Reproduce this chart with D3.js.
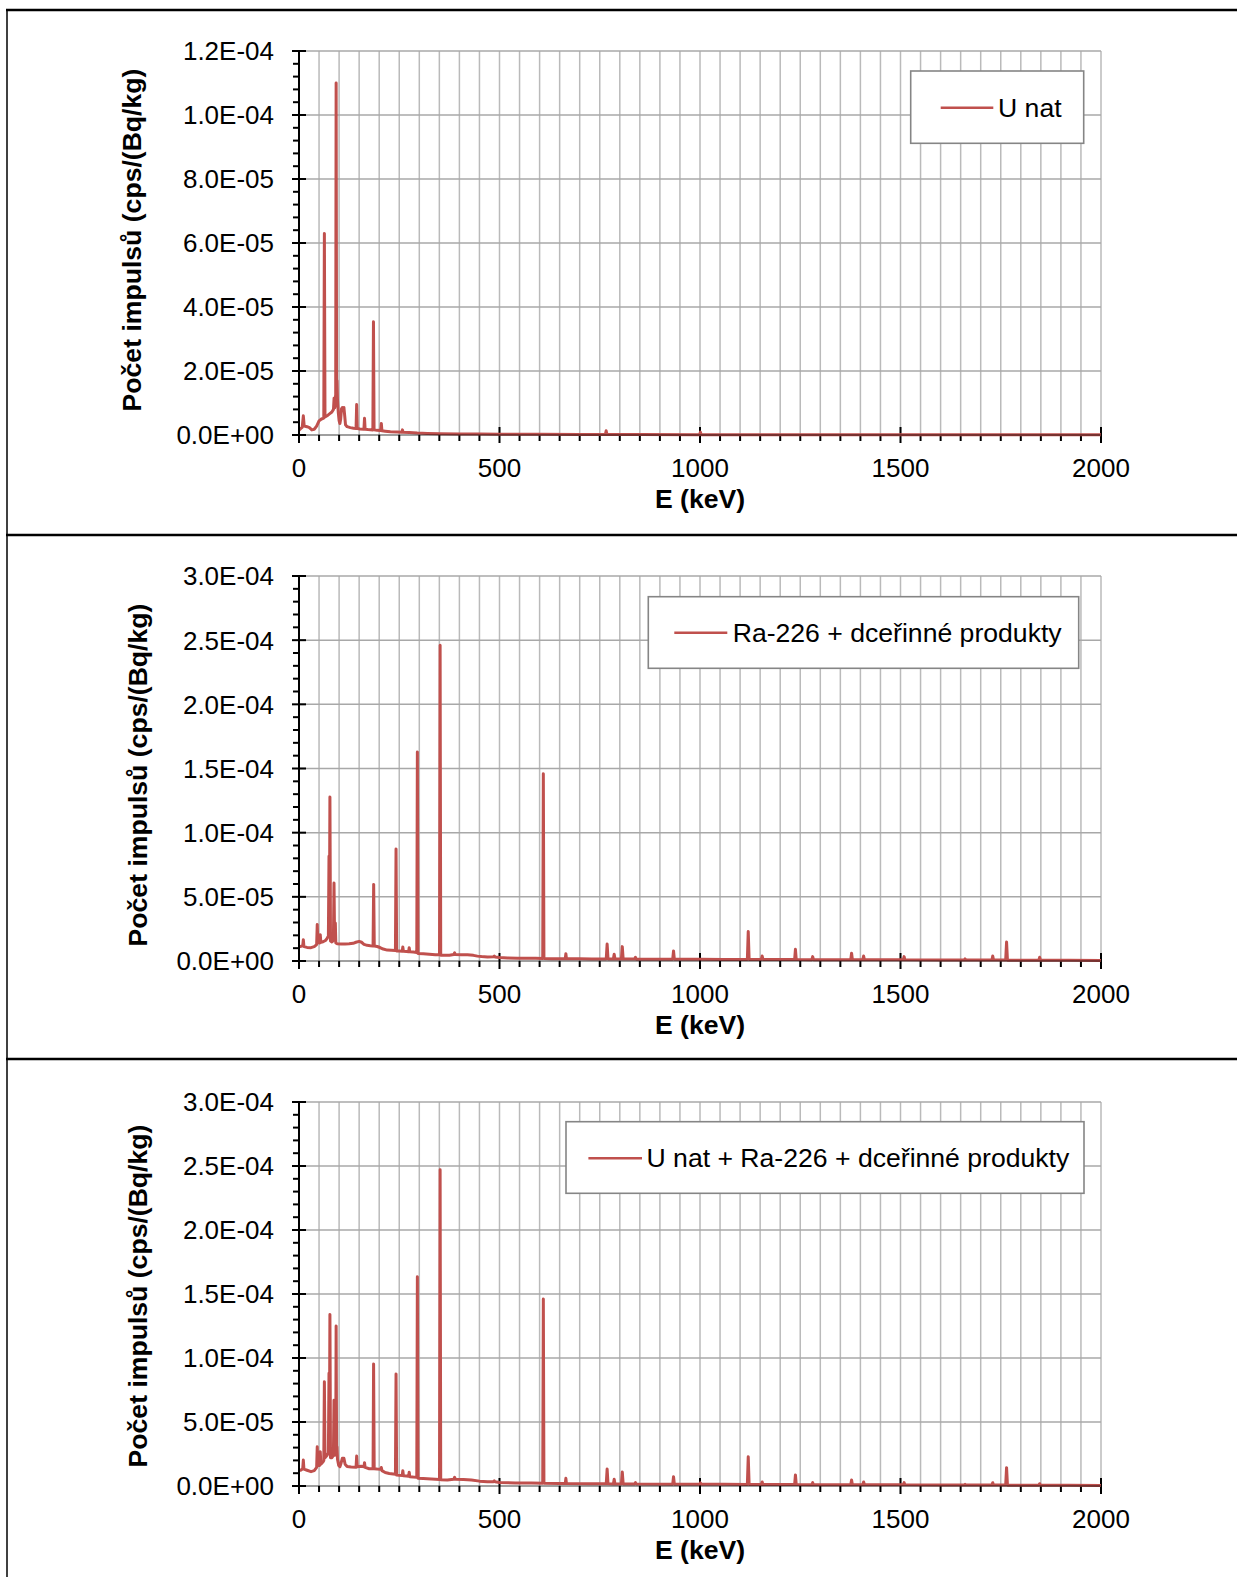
<!DOCTYPE html>
<html><head><meta charset="utf-8">
<script src="https://cdn.jsdelivr.net/npm/d3@7"></script>
<style>
body{margin:0;background:#fff}
svg{display:block}
text{font-family:"Liberation Sans",Arial,sans-serif;fill:#000}
</style>
</head><body>
<svg id="c" width="1237" height="1577"></svg>
<script>
// ---------- DATA (values in units of 1e-6 cps/(Bq/kg)) ----------
const xMajorTicks = [0, 500, 1000, 1500, 2000];
const yTicksU = [0, 20, 40, 60, 80, 100, 120];
const yTicksRa = [0, 50, 100, 150, 200, 250, 300];
const xTitle = "E (keV)";
const yTitle = "Počet impulsů (cps/(Bq/kg)";
const seriesNames = ["U nat", "Ra-226 + dceřinné produkty", "U nat + Ra-226 + dceřinné produkty"];

const spectrumU = [
[0,1.5],[4,2.0],[8,2.4],[10.8,6.0],[13,2.8],[20,2.6],[26,2.3],[32,1.6],[38,1.8],[44,2.8],[50,4.4],[56,5.0],[61.8,5.3],[63.3,63],[64.8,5.6],[70,6.0],[76,6.6],[82,7.2],[86,8.0],[87.5,11.5],[89,8.5],[90.5,12],[91.5,9],[92.6,110],[93.8,14],[94.8,17],[96,11],[98,7],[100,4.5],[102,3.6],[104,5],[106,8.2],[108,8.6],[110,8.3],[112,8.6],[114,6],[116,3.2],[120,2.6],[128,2.3],[136,2.1],[142.3,2.0],[143.8,9.5],[145.3,2.0],[152,1.9],[161.9,1.8],[163.4,5.2],[164.9,1.8],[172,1.7],[184.2,1.6],[185.7,35.4],[187.2,1.6],[195,1.45],[203.8,1.4],[205.3,3.6],[206.8,1.3],[215,1.2],[228,1.05],[245,0.95],[256.5,0.85],[258,1.6],[259.5,0.85],[275,0.75],[295,0.6],[320,0.5],[350,0.4],[400,0.33],[450,0.28],[500,0.25],[600,0.2],[700,0.17],[764,0.15],[766,1.3],[768,0.15],[850,0.13],[999,0.11],[1001,0.9],[1003,0.11],[1200,0.09],[1500,0.07],[1800,0.06],[2000,0.05]
];

const spectrumRa = [
[0,11],[5,11.5],[9.3,12],[10.8,16.6],[12.3,11.2],[20,10.6],[30,10.4],[38,11.2],[44,12.8],[45.5,28.5],[47,14.5],[51.5,14],[53,20.5],[54.5,14.5],[60,15],[66,16],[70,17.5],[73.3,19.5],[74.8,81.6],[75.8,24],[77.1,127.8],[78.6,15.5],[82,14.8],[85.8,16],[87.3,60.8],[88.5,24],[89.6,16],[90.6,29.6],[91.8,14],[95,13.5],[105,13.3],[115,13.2],[125,13.4],[135,13.8],[142,14.6],[150,15.3],[156,14.6],[162,13],[170,12.2],[178,11.9],[184.7,11.7],[186.2,59.7],[187.7,11.7],[195,11.3],[202,10.5],[210,9.3],[220,8.5],[230,8.3],[240.5,8.1],[242,87.3],[243.5,7.8],[250,7.7],[257.4,7.6],[258.9,10.9],[260.4,7.5],[268,7.4],[273.3,7.3],[274.8,10.4],[276.3,7.2],[285,7.0],[293.7,6.7],[295.2,162.9],[296.7,5.8],[310,5.6],[325,5.3],[340,4.9],[350.4,4.8],[351.9,246],[353.4,4.5],[365,4.4],[375,4.5],[386,5.1],[388,6.3],[390,5.0],[405,4.9],[420,4.8],[435,4.4],[445,3.8],[455,3.5],[470,3.2],[485,3.3],[487,3.9],[489,3.2],[500,2.7],[520,2.4],[545,2.2],[570,2.1],[590,2.1],[607.8,2.0],[609.3,146],[610.8,1.9],[630,1.8],[650,1.8],[664,1.8],[665.5,5.7],[667,1.7],[700,1.7],[730,1.6],[766.2,1.6],[768.4,13.2],[770.6,1.6],[784,1.5],[786,5.2],[788,1.5],[804,1.5],[806.2,11.2],[808.4,1.5],[837,1.5],[839,2.9],[841,1.4],[880,1.4],[932,1.4],[934,7.8],[936,1.4],[1000,1.3],[1060,1.2],[1118.1,1.2],[1120.3,22.9],[1122.5,1.2],[1153,1.2],[1155,3.9],[1157,1.2],[1236,1.1],[1238,9.1],[1240,1.1],[1279,1.0],[1281,3.4],[1283,1.0],[1376,1.0],[1378,6.0],[1380,1.0],[1406,0.95],[1408,3.9],[1410,0.95],[1507,0.9],[1509,3.4],[1511,0.9],[1600,0.8],[1659,0.75],[1661,1.6],[1663,0.75],[1728,0.7],[1730,3.9],[1732,0.7],[1762.3,0.7],[1764.5,14.8],[1766.7,0.65],[1845,0.6],[1847,2.9],[1849,0.6],[1920,0.5],[2000,0.45]
];

const spectrumSum = [
[0,12],[5,12.5],[9.3,13.5],[10.8,20.3],[12.3,13.2],[20,12.3],[30,11.2],[38,12],[44,14.5],[45.5,30.7],[47,16],[51.5,16],[53,26.8],[54.5,17],[60,19],[61.8,20],[63.3,81.5],[64.8,22],[70,24],[73.3,26],[74.8,88],[75.8,30],[77.1,134],[78.6,22],[82,22],[85.8,24],[87.3,67],[88.5,32],[89.6,24],[90.8,35],[91.6,26],[92.6,125],[93.8,28],[94.8,30.7],[96,21],[99,16],[102,15.1],[105,18],[108,21.6],[112,21.6],[115,17],[120,15.2],[130,14.8],[142.3,14.6],[143.8,23.4],[145.3,15],[155,15.4],[161.9,15],[163.4,18.2],[164.9,14.5],[175,13.5],[184.7,13.5],[186,95.3],[187.5,13.5],[195,13.2],[203.8,13],[205.3,14.5],[206.8,12],[215,10.5],[225,9.8],[235,9.4],[240.5,9.2],[242,87.5],[243.5,8.5],[250,8.3],[257.4,8.2],[258.9,12],[260.4,8],[268,7.9],[273.3,7.7],[274.8,10.7],[276.3,7.3],[285,7.0],[293.7,6.8],[295.2,163.5],[296.7,6],[310,5.8],[330,5.4],[350.4,5],[351.9,247],[353.4,4.8],[370,4.7],[386,5.3],[388,6.8],[390,5.2],[410,5.1],[430,4.7],[450,3.8],[470,3.3],[485,3.4],[487,4],[489,3.3],[500,2.8],[540,2.4],[580,2.3],[607.8,2.2],[609.3,146],[610.8,2.1],[650,2.0],[664,1.9],[665.5,6],[667,1.9],[720,1.8],[766.2,1.7],[768.4,13.3],[770.6,1.7],[784,1.6],[786,5.2],[788,1.6],[804,1.6],[806.2,10.9],[808.4,1.6],[837,1.5],[839,2.6],[841,1.5],[932,1.4],[934,7.3],[936,1.4],[999,1.4],[1001,2.4],[1003,1.3],[1060,1.3],[1118.1,1.2],[1120.3,22.9],[1122.5,1.2],[1153,1.2],[1155,3.1],[1157,1.2],[1236,1.1],[1238,8.6],[1240,1.1],[1279,1.0],[1281,2.6],[1283,1.0],[1376,1.0],[1378,4.7],[1380,1.0],[1406,0.95],[1408,3.1],[1410,0.95],[1507,0.9],[1509,2.6],[1511,0.9],[1600,0.8],[1659,0.75],[1661,1.3],[1663,0.75],[1728,0.7],[1730,2.6],[1732,0.7],[1762.3,0.7],[1764.5,14.3],[1766.7,0.65],[1845,0.6],[1847,1.8],[1849,0.6],[1920,0.5],[2000,0.45]
];

// ---------- LAYOUT ----------
const W = 1237, H = 1577;
const plotLeft = 299, plotRight = 1101;
const FONT = 26, FONT_T = 26.6;
const RED = "#C0504D";
const GRID = "#BABABA";

const panels = [
  {top:51, bottom:435, yTicks:yTicksU, minorDiv:5, data:spectrumU, name:seriesNames[0],
   legend:{x:910.7, y:71, w:173, h:72.3, lx1:940.7, lx2:993.3, ly:107.7, tx:998}, titleX:140.5, titleY:240},
  {top:576, bottom:961, yTicks:yTicksRa, minorDiv:5, data:spectrumRa, name:seriesNames[1],
   legend:{x:648.3, y:596.7, w:430.4, h:71.6, lx1:674.3, lx2:727.3, ly:632.7, tx:732.7}, titleX:147, titleY:775},
  {top:1102, bottom:1486, yTicks:yTicksRa, minorDiv:5, data:spectrumSum, name:seriesNames[2],
   legend:{x:566, y:1121.7, w:518, h:71.6, lx1:588.4, lx2:642, ly:1158.3, tx:646.5}, titleX:147, titleY:1296}
];

function fmtExp(v){
  const val = v * 1e-6;
  if (val === 0) return "0.0E+00";
  const parts = val.toExponential(1).split("e");
  const e = parseInt(parts[1], 10);
  return parts[0] + "E" + (e < 0 ? "-" : "+") + String(Math.abs(e)).padStart(2, "0");
}

const svg = d3.select("#c");
svg.append("rect").attr("width", W).attr("height", H).attr("fill", "#fff");

// table frame lines
const frame = svg.append("g").attr("stroke", "#000");
frame.append("line").attr("x1", 6).attr("x2", W).attr("y1", 10).attr("y2", 10).attr("stroke-width", 2.5);
frame.append("line").attr("x1", 6).attr("x2", W).attr("y1", 535).attr("y2", 535).attr("stroke-width", 2.5);
frame.append("line").attr("x1", 6).attr("x2", W).attr("y1", 1059).attr("y2", 1059).attr("stroke-width", 2.5);
frame.append("line").attr("x1", 7).attr("x2", 7).attr("y1", 9).attr("y2", H).attr("stroke-width", 1.5);

const x = d3.scaleLinear().domain([0, 2000]).range([plotLeft, plotRight]);
const xGrid = d3.range(0, 2001, 50);

panels.forEach(p => {
  const yMax = p.yTicks[p.yTicks.length - 1];
  const y = d3.scaleLinear().domain([0, yMax]).range([p.bottom, p.top]);
  const g = svg.append("g");

  g.append("g").selectAll("line").data(xGrid.slice(1)).join("line")
    .attr("x1", d => x(d)).attr("x2", d => x(d))
    .attr("y1", p.top).attr("y2", p.bottom)
    .attr("stroke", GRID).attr("stroke-width", 1.5);
  g.append("g").selectAll("line").data(p.yTicks.slice(1)).join("line")
    .attr("x1", plotLeft).attr("x2", plotRight)
    .attr("y1", d => y(d)).attr("y2", d => y(d))
    .attr("stroke", "#A8A8A8").attr("stroke-width", 1.5);

  const step = p.yTicks[1] - p.yTicks[0];
  const minor = d3.range(0, yMax + 1e-9, step / p.minorDiv).filter(v => Math.abs(v / step - Math.round(v / step)) > 1e-6);
  g.append("g").selectAll("line").data(minor).join("line")
    .attr("x1", plotLeft - 6).attr("x2", plotLeft)
    .attr("y1", d => y(d)).attr("y2", d => y(d))
    .attr("stroke", "#000").attr("stroke-width", 2);
  g.append("g").selectAll("line").data(p.yTicks).join("line")
    .attr("x1", plotLeft - 7).attr("x2", plotLeft + 7)
    .attr("y1", d => y(d)).attr("y2", d => y(d))
    .attr("stroke", "#000").attr("stroke-width", 2);
  g.append("g").selectAll("line").data(xGrid.filter(d => d % 500 !== 0)).join("line")
    .attr("x1", d => x(d)).attr("x2", d => x(d))
    .attr("y1", p.bottom).attr("y2", p.bottom + 6)
    .attr("stroke", "#000").attr("stroke-width", 2);
  g.append("g").selectAll("line").data(xMajorTicks).join("line")
    .attr("x1", d => x(d)).attr("x2", d => x(d))
    .attr("y1", p.bottom - 8).attr("y2", p.bottom + 8)
    .attr("stroke", "#000").attr("stroke-width", 2);

  const line = d3.line().x(d => x(d[0])).y(d => y(d[1]));
  g.append("path").datum(p.data).attr("d", line)
    .attr("fill", "none").attr("stroke", RED).attr("stroke-width", 3)
    .attr("stroke-linejoin", "round");

  g.append("line").attr("x1", plotLeft).attr("x2", plotLeft).attr("y1", p.top).attr("y2", p.bottom)
    .attr("stroke", "#000").attr("stroke-width", 2);
  g.append("line").attr("x1", plotLeft).attr("x2", plotRight).attr("y1", p.bottom).attr("y2", p.bottom)
    .attr("stroke", "#000").attr("stroke-width", 1.5).attr("stroke-opacity", 0.5);

  g.append("g").selectAll("text").data(p.yTicks).join("text")
    .attr("x", 274).attr("y", d => y(d)).attr("dy", "0.36em")
    .attr("text-anchor", "end").style("font-size", FONT + "px")
    .text(d => fmtExp(d));
  g.append("g").selectAll("text").data(xMajorTicks).join("text")
    .attr("x", d => x(d)).attr("y", p.bottom + 42)
    .attr("text-anchor", "middle").style("font-size", FONT + "px")
    .text(d => d);
  g.append("text").attr("x", (plotLeft + plotRight) / 2).attr("y", p.bottom + 73)
    .attr("text-anchor", "middle").style("font-size", FONT_T + "px").style("font-weight", "bold")
    .text(xTitle);
  g.append("text").attr("transform", `translate(${p.titleX},${p.titleY}) rotate(-90)`)
    .attr("text-anchor", "middle").style("font-size", FONT_T + "px").style("font-weight", "bold")
    .text(yTitle);

  const L = p.legend;
  g.append("rect").attr("x", L.x).attr("y", L.y).attr("width", L.w).attr("height", L.h)
    .attr("fill", "#fff").attr("stroke", "#858585").attr("stroke-width", 1.6);
  g.append("line").attr("x1", L.lx1).attr("x2", L.lx2).attr("y1", L.ly).attr("y2", L.ly)
    .attr("stroke", RED).attr("stroke-width", 2.6);
  g.append("text").attr("x", L.tx).attr("y", L.ly + 8.8).style("font-size", FONT_T + "px").text(p.name);
});
</script>
</body></html>
